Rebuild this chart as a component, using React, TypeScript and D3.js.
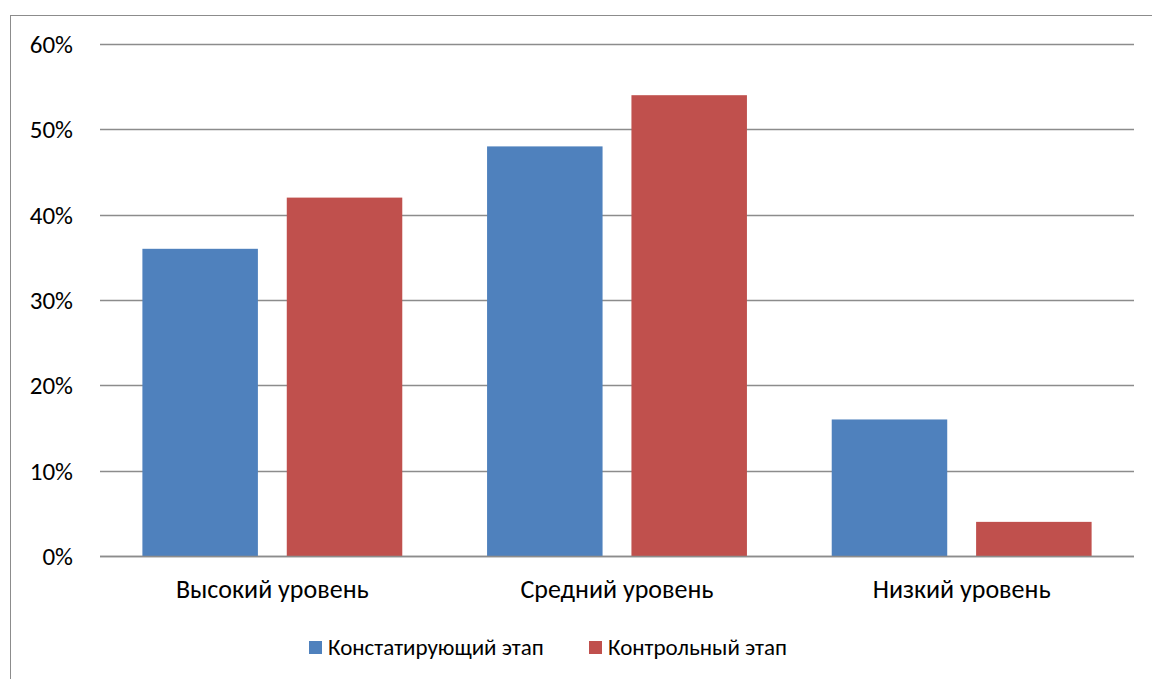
import React, { useEffect, useRef } from 'react';
import * as d3 from 'd3';

const categories = ['Высокий уровень', 'Средний уровень', 'Низкий уровень'];
const seriesNames = ['Констатирующий этап', 'Контрольный этап'];
const stage1 = [0.36, 0.48, 0.16];
const stage2 = [0.42, 0.54, 0.04];
const yTicks = [0, 0.1, 0.2, 0.3, 0.4, 0.5, 0.6];
const colors = ['#4f81bd', '#c0504d'];

const App = () => {
  const svgRef = useRef<SVGSVGElement>(null);

  useEffect(() => {
    const svg = d3.select(svgRef.current);
    svg.selectAll('*').remove();

    const width = 1152;
    const height = 679;
    const margin = { top: 44, right: 18, bottom: 123, left: 100 };
    const font = 'Carlito, Calibri, "Liberation Sans", Arial, sans-serif';

    // outer chart border (only the top and left edges are visible)
    svg.append('rect')
      .attr('x', 10.5).attr('y', 15.5)
      .attr('width', width).attr('height', height)
      .attr('fill', 'white')
      .attr('stroke', '#8c8c8c')
      .attr('stroke-width', 1);

    const x0 = d3.scaleBand()
      .domain(categories)
      .range([margin.left, width - margin.right])
      .paddingInner(0.246)
      .paddingOuter(0.123);

    const x1 = d3.scaleBand()
      .domain(seriesNames)
      .range([0, x0.bandwidth()])
      .paddingInner(0.2);

    const y = d3.scaleLinear()
      .domain([0, 0.6])
      .range([height - margin.bottom, margin.top]);

    // grid
    svg.append('g')
      .selectAll('line')
      .data(yTicks)
      .join('line')
      .attr('x1', margin.left)
      .attr('x2', width - margin.right)
      .attr('y1', d => Math.round(y(d)) + 0.5)
      .attr('y2', d => Math.round(y(d)) + 0.5)
      .attr('stroke', '#8c8c8c')
      .attr('stroke-width', 1.5);

    svg.append('g')
      .selectAll('text')
      .data(yTicks)
      .join('text')
      .attr('x', 73)
      .attr('y', d => y(d) + 9)
      .attr('text-anchor', 'end')
      .attr('font-family', font)
      .attr('font-size', 25)
      .attr('fill', '#000')
      .text(d => d3.format('.0%')(d));

    const rows = categories.map((c, i) => ({ c, vals: [stage1[i], stage2[i]] }));

    svg.append('g')
      .selectAll('g')
      .data(rows)
      .join('g')
      .attr('transform', d => `translate(${x0(d.c)},0)`)
      .selectAll('rect')
      .data(d => d.vals.map((v, j) => ({ key: seriesNames[j], v, j })))
      .join('rect')
      .attr('x', d => x1(d.key)!)
      .attr('y', d => y(d.v))
      .attr('width', x1.bandwidth())
      .attr('height', d => y(0) - y(d.v))
      .attr('fill', d => colors[d.j]);

    // baseline over the bars
    svg.append('line')
      .attr('x1', margin.left)
      .attr('x2', width - margin.right)
      .attr('y1', Math.round(y(0)) + 0.5)
      .attr('y2', Math.round(y(0)) + 0.5)
      .attr('stroke', '#8c8c8c')
      .attr('stroke-width', 1.5);

    svg.append('g')
      .selectAll('text')
      .data(categories)
      .join('text')
      .attr('x', d => x0(d)! + x0.bandwidth() / 2)
      .attr('y', 598)
      .attr('text-anchor', 'middle')
      .attr('font-family', font)
      .attr('font-size', 26)
      .attr('fill', '#000')
      .text(d => d);

    // legend
    const legendX = [309, 589];
    const legend = svg.append('g')
      .selectAll('g')
      .data(seriesNames)
      .join('g')
      .attr('transform', (d, i) => `translate(${legendX[i]},641)`);
    legend.append('rect')
      .attr('width', 13).attr('height', 13)
      .attr('fill', (d, i) => colors[i]);
    legend.append('text')
      .attr('x', 19)
      .attr('y', 14)
      .attr('font-family', font)
      .attr('font-size', 23)
      .attr('fill', '#000')
      .text(d => d);
  }, []);

  return (
    <svg ref={svgRef} width={1152} height={679}
      style={{ position: 'absolute', left: 0, top: 0, display: 'block' }} />
  );
};

export default App;
